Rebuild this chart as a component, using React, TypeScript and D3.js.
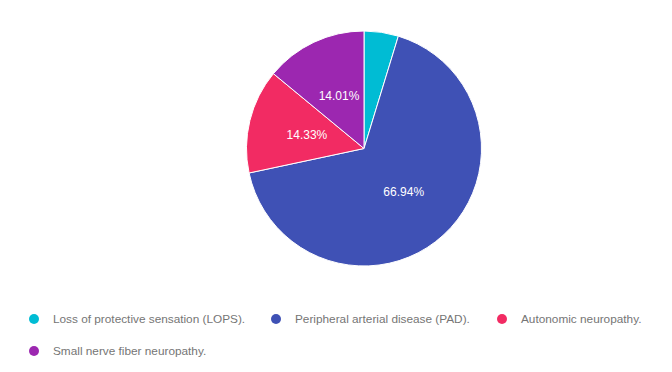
import { useEffect, useRef } from 'react';
import * as d3 from 'd3';

const categories = [
  'Loss of protective sensation (LOPS).',
  'Peripheral arterial disease (PAD).',
  'Autonomic neuropathy.',
  'Small nerve fiber neuropathy.',
];
const values = [4.72, 66.94, 14.33, 14.01];
const colors = ['#00bcd4', '#3f51b5', '#f22b63', '#9c27b0'];

const W = 672;
const H = 372;

const App = () => {
  const svgRef = useRef<SVGSVGElement>(null);

  useEffect(() => {
    if (!svgRef.current) return;
    const svg = d3.select(svgRef.current);
    svg.selectAll('*').remove();

    const cx = 364;
    const cy = 148.5;
    const radius = 117.5;

    const data = categories.map((c, i) => ({ name: c, value: values[i], color: colors[i] }));

    const pie = d3.pie<any>().value(d => d.value).sort(null);
    const arc = d3.arc<any>().innerRadius(0).outerRadius(radius);
    const labelArc = d3.arc<any>().innerRadius(radius * 0.5).outerRadius(radius * 0.5);

    const g = svg.append('g').attr('transform', `translate(${cx},${cy})`);
    const arcs = pie(data);

    g.selectAll('path')
      .data(arcs)
      .enter()
      .append('path')
      .attr('d', arc)
      .attr('fill', d => d.data.color)
      .attr('stroke', '#ffffff')
      .attr('stroke-width', 1);

    // percentage labels, skip the thin slice
    g.selectAll('text')
      .data(arcs.filter(d => d.data.value > 5))
      .enter()
      .append('text')
      .attr('transform', d => `translate(${labelArc.centroid(d)})`)
      .attr('text-anchor', 'middle')
      .attr('dy', '0.36em')
      .style('font-family', 'Arial, "Liberation Sans", sans-serif')
      .style('font-size', '12px')
      .style('fill', '#ffffff')
      .text(d => `${d.data.value.toFixed(2)}%`);

    // Legend
    const legendPos = [
      { x: 34, y: 319 },
      { x: 276, y: 319 },
      { x: 502, y: 319 },
      { x: 34, y: 351 },
    ];

    const legend = svg.append('g');
    const items = legend.selectAll('g')
      .data(data)
      .enter()
      .append('g')
      .attr('transform', (_, i) => `translate(${legendPos[i].x},${legendPos[i].y})`);

    items.append('circle')
      .attr('r', 5)
      .attr('fill', d => d.color);

    items.append('text')
      .attr('x', 19)
      .attr('dy', '0.36em')
      .style('font-family', 'Arial, "Liberation Sans", sans-serif')
      .style('font-size', '11.8px')
      .style('fill', '#757575')
      .text(d => d.name);
  }, []);

  return (
    <svg
      ref={svgRef}
      width={W}
      height={H}
      style={{ position: 'absolute', left: 0, top: 0, background: '#ffffff' }}
    />
  );
};

export default App;
